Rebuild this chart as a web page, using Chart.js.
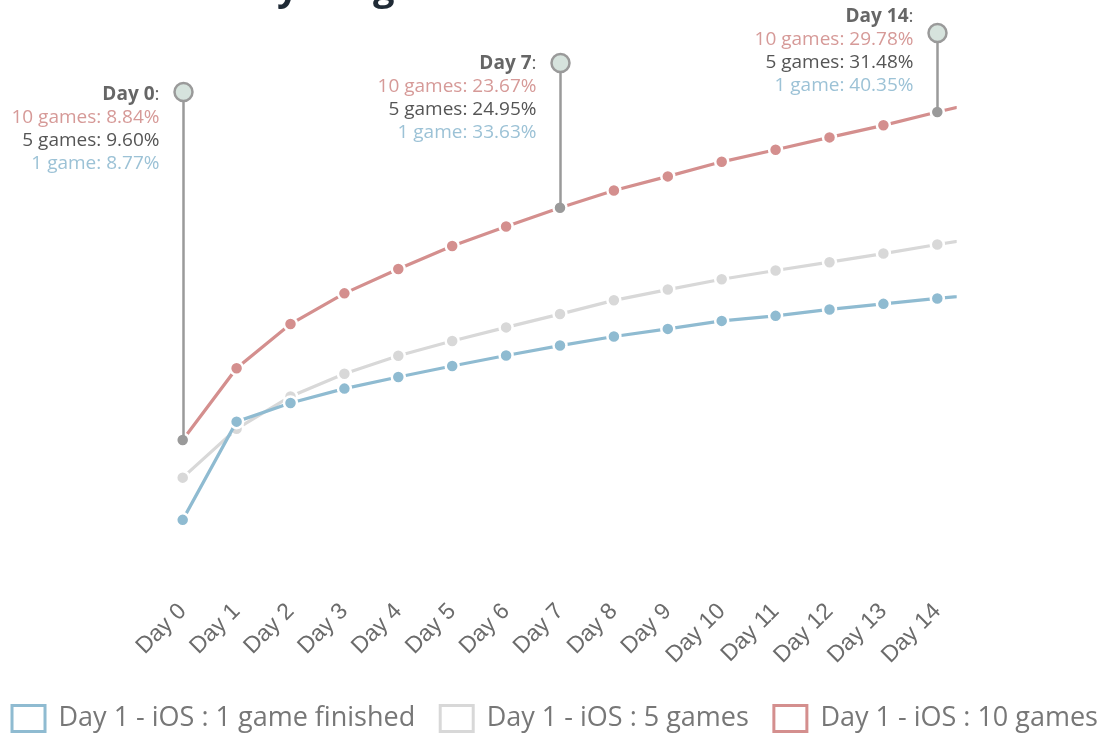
<!DOCTYPE html>
<html>
<head>
<meta charset="utf-8">
<title>Retention by Progress</title>
<script src="https://cdn.jsdelivr.net/npm/chart.js@4/dist/chart.umd.min.js"></script>
<style>
  html, body { margin: 0; padding: 0; background: #ffffff; }
  #wrap { width: 1110px; height: 735px; position: relative; overflow: hidden; }
</style>
</head>
<body>
<div id="wrap"><canvas id="chart" width="1110" height="735"></canvas></div>
<script>
// Day index for every plotted point (Day 15 only peeks in at the right edge)
const days = [0, 1, 2, 3, 4, 5, 6, 7, 8, 9, 10, 11, 12, 13, 14, 15];
// Tick labels along the bottom axis
const dayLabels = ['Day 0', 'Day 1', 'Day 2', 'Day 3', 'Day 4', 'Day 5', 'Day 6', 'Day 7',
                   'Day 8', 'Day 9', 'Day 10', 'Day 11', 'Day 12', 'Day 13', 'Day 14'];
// Retention (%) per cohort
const oneGame   = [8.77, 22.78, 25.44, 27.49, 29.15, 30.72, 32.21, 33.63, 34.92, 36.01, 37.15, 37.87, 38.78, 39.58, 40.35, 41.10];
const fiveGames = [9.60, 14.18, 17.22, 19.35, 21.04, 22.42, 23.70, 24.95, 26.24, 27.25, 28.22, 29.04, 29.82, 30.63, 31.48, 32.30];
const tenGames  = [8.84, 13.42, 16.24, 18.20, 19.76, 21.23, 22.47, 23.67, 24.77, 25.67, 26.60, 27.37, 28.16, 28.93, 29.78, 30.60];
// Series names
const seriesNames = ['Day 1 - iOS : 1 game finished', 'Day 1 - iOS : 5 games', 'Day 1 - iOS : 10 games'];
// Days that carry a callout
const pinDays = [0, 7, 14];
const titleText = 'Retention by Progress';

// Styling
const COLORS = { blue: '#8fbbd1', grey: '#d8d8d8', red: '#d48f8e' };
const TEXT = { blue: '#9cc2d6', grey: '#555555', red: '#d69a98', head: '#666666' };
const PIN = { line: '#9a9a9a', fill: '#d6e3dd', tops: [92, 63, 33], textShift: [3, 1, -16], r: 9 };
// the legend runs a little wider than the canvas allows by default
const EDGE = 27;

const toPoints = vals => days.map((d, i) => ({ x: d, y: vals[i] }));

function lineSet(label, vals, color, axis) {
  return {
    label,
    data: toPoints(vals),
    yAxisID: axis,
    borderColor: color,
    backgroundColor: color,
    borderWidth: 3.2,
    tension: 0,
    pointRadius: 6.5,
    pointHoverRadius: 6.5,
    pointBorderWidth: 2.5,
    pointBorderColor: '#ffffff',
    pointBackgroundColor: color,
    clip: { left: 14, top: 14, right: 0, bottom: 14 }
  };
}

const datasets = [
  lineSet(seriesNames[0], oneGame, COLORS.blue, 'yBlue'),
  lineSet(seriesNames[1], fiveGames, COLORS.grey, 'yGrey'),
  lineSet(seriesNames[2], tenGames, COLORS.red, 'yRed')
];
// callout days are marked with a grey dot on the 10-games line
datasets[2].pointBackgroundColor = ctx => pinDays.includes(ctx.dataIndex) ? PIN.line : COLORS.red;

// Callouts: stem, knob and the three values for that day
const pinPlugin = {
  id: 'pins',
  afterDatasetsDraw(chart) {
    const ctx = chart.ctx;
    const xs = chart.scales.x;
    const yr = chart.scales.yRed;
    pinDays.forEach((d, k) => {
      const x = Math.round(xs.getPixelForValue(d)) + 0.5;
      const yPoint = yr.getPixelForValue(tenGames[d]);
      const yTop = PIN.tops[k];
      ctx.save();
      ctx.strokeStyle = PIN.line;
      ctx.lineWidth = 2.5;
      ctx.beginPath();
      ctx.moveTo(x, yTop + PIN.r);
      ctx.lineTo(x, yPoint);
      ctx.stroke();
      ctx.beginPath();
      ctx.arc(x, yTop, PIN.r, 0, Math.PI * 2);
      ctx.fillStyle = PIN.fill;
      ctx.fill();
      ctx.lineWidth = 2.5;
      ctx.stroke();

      const right = x - 24;
      let y = yTop + PIN.textShift[k];
      const lh = 23;
      ctx.textAlign = 'right';
      ctx.textBaseline = 'middle';
      ctx.font = '19px "Open Sans"';
      ctx.fillStyle = TEXT.head;
      ctx.fillText(':', right, y);
      const cw = ctx.measureText(':').width;
      ctx.font = 'bold 19px "Open Sans"';
      ctx.fillText(dayLabels[d], right - cw, y);
      ctx.font = '19px "Open Sans"';
      const rows = [
        ['10 games: ' + tenGames[d].toFixed(2) + '%', TEXT.red],
        ['5 games: ' + fiveGames[d].toFixed(2) + '%', TEXT.grey],
        ['1 game: ' + oneGame[d].toFixed(2) + '%', TEXT.blue]
      ];
      rows.forEach(([t, c]) => {
        y += lh;
        ctx.fillStyle = c;
        ctx.fillText(t, right, y);
      });
      ctx.restore();
    });
  }
};

// Heading sits mostly above the top edge; only its descenders show
const headPlugin = {
  id: 'head',
  afterDraw(chart) {
    const ctx = chart.ctx;
    ctx.save();
    ctx.font = 'bold 38px "Open Sans"';
    ctx.fillStyle = '#1f2a35';
    ctx.textAlign = 'left';
    ctx.textBaseline = 'alphabetic';
    ctx.fillText(titleText, 55, 0);
    ctx.restore();
  }
};

const hiddenAxis = (min, max, pos, width) => ({
  type: 'linear',
  position: pos,
  min, max,
  display: width > 0,
  grid: { display: false },
  border: { display: false },
  ticks: { display: false },
  afterFit: s => { if (width > 0) s.width = width; }
});

new Chart(document.getElementById('chart'), {
  type: 'line',
  data: { datasets },
  plugins: [pinPlugin, headPlugin],
  options: {
    responsive: false,
    animation: false,
    devicePixelRatio: 1,
    layout: { padding: { top: 45, bottom: -7, left: -EDGE, right: -EDGE } },
    scales: {
      x: {
        type: 'linear',
        min: 0,
        max: 14.36,
        grid: { display: false },
        border: { display: false },
        afterBuildTicks: s => { s.ticks = dayLabels.map((_, i) => ({ value: i })); },
        afterFit: s => { s.height += 1; },
        ticks: {
          autoSkip: false,
          minRotation: 45,
          maxRotation: 45,
          padding: 10,
          color: '#6b6b6b',
          font: { family: '"Liberation Sans", Arial, sans-serif', size: 23 },
          callback: v => dayLabels[v] ?? ''
        }
      },
      yBlue: hiddenAxis(0.2, 76.5, 'left', 182.7 + EDGE),
      yGrey: hiddenAxis(0, 50.2, 'left', 0),
      yRed: hiddenAxis(-0.1, 34.06, 'right', 153.3 + EDGE)
    },
    plugins: {
      title: { display: false },
      tooltip: { enabled: false },
      legend: {
        position: 'bottom',
        labels: {
          color: '#777777',
          font: { family: '"Open Sans"', size: 27 },
          boxWidth: 33,
          boxHeight: 26,
          padding: 25,
          generateLabels: chart => chart.data.datasets.map((ds, i) => ({
            text: ds.label,
            fillStyle: '#ffffff',
            strokeStyle: ds.borderColor,
            lineWidth: 3,
            fontColor: '#777777',
            hidden: false,
            datasetIndex: i
          }))
        }
      }
    }
  }
});
</script>
</body>
</html>
